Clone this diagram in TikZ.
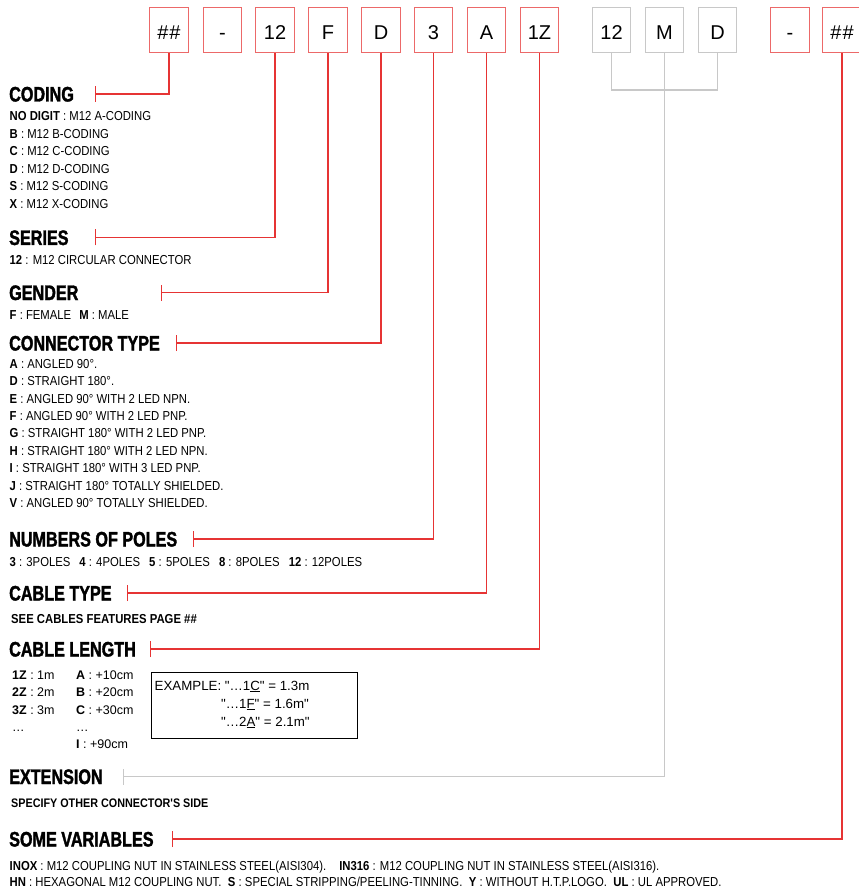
\documentclass[tikz,border=0pt]{standalone}
\usepackage{fontspec}
\setmainfont{Liberation Sans}
\newfontfamily\headfont{Liberation Sans}[FakeStretch=0.77, BoldFeatures={FakeBold=1.6}]
\newfontfamily\bodyfont{Liberation Sans}[FakeStretch=0.87]
\newfontfamily\plainfont{Liberation Sans}
\usetikzlibrary{arrows.meta}
\definecolor{codered}{RGB}{230,52,52}
\definecolor{boxred}{RGB}{236,105,105}
\definecolor{linegrey}{RGB}{200,200,200}

\begin{document}
\begin{tikzpicture}[x=1pt, y=-1pt,
    codebox/.style={draw=boxred, line width=1pt, minimum width=38.5pt, minimum height=45pt, inner sep=0pt, text height=17.6pt, text depth=0pt, font=\fontsize{20}{24}\selectfont},
    extbox/.style={codebox, draw=linegrey},
    heading/.style={anchor=base west, inner sep=0pt, font=\headfont\bfseries\fontsize{21}{25}\selectfont},
    bodytext/.style={anchor=base west, inner sep=0pt, font=\bodyfont\fontsize{13}{16}\selectfont},
    boldtext/.style={bodytext, font=\bodyfont\bfseries\fontsize{13}{16}\selectfont},
    plaintext/.style={anchor=base west, inner sep=0pt, font=\plainfont\fontsize{12.5}{15}\selectfont},
    redline/.style={codered, line width=1.1pt, -{Bar[width=16pt]}},
    greyline/.style={linegrey, line width=1.1pt}]
    \useasboundingbox (0,0) rectangle (858,890);
    % Code boxes
    \foreach \lbl/\xx/\nm in {{\#\kern1pt\#}/169/b1, -/222.5/b2, 12/275/b3, F/328/b4, D/381/b5, 3/433.5/b6, A/486.5/b7, 1Z/539.5/b8, -/790/r1, {\#\kern1pt\#}/842/r2}
        \node[codebox] (\nm) at (\xx,30.5) {\lbl};
    \foreach \lbl/\xx/\nm in {12/611.5/g1, M/664.5/g2, D/717.5/g3}
        \node[extbox] (\nm) at (\xx,30.5) {\lbl};
    % Headings
    \node[heading] (hCoding) at (9,101.5) {CODING};
    \node[heading] (hSeries) at (9,245) {SERIES};
    \node[heading] (hGender) at (9,300) {GENDER};
    \node[heading] (hType) at (9,350.5) {CONNECTOR TYPE};
    \node[heading] (hPoles) at (9,546.5) {NUMBERS OF POLES};
    \node[heading] (hCable) at (9,600.5) {CABLE TYPE};
    \node[heading] (hLength) at (9,656.5) {CABLE LENGTH};
    \node[heading] (hExt) at (9,784) {EXTENSION};
    \node[heading] (hVar) at (9,846.5) {SOME VARIABLES};
    % Tick ends
    \coordinate (tCoding) at (95,94);
    \coordinate (tSeries) at (95,237.5);
    \coordinate (tGender) at (161,292.5);
    \coordinate (tType) at (176,343);
    \coordinate (tPoles) at (193,539);
    \coordinate (tCable) at (126.5,593);
    \coordinate (tLength) at (150,649);
    \coordinate (tExt) at (123,776.5);
    \coordinate (tVar) at (172,839);
    \coordinate (gJoin) at (664.5,90);
    % Connectors
    \draw[redline] (b1.south) |- (tCoding);
    \draw[redline] (b3.south) |- (tSeries);
    \draw[redline] (b4.south) |- (tGender);
    \draw[redline] (b5.south) |- (tType);
    \draw[redline] (b6.south) |- (tPoles);
    \draw[redline] (b7.south) |- (tCable);
    \draw[redline] (b8.south) |- (tLength);
    \draw[redline] (r2.south) |- (tVar);
    \draw[greyline] (g1.south) |- (gJoin) -| (g3.south);
    \draw[greyline, -{Bar[width=16pt]}] (g2.south) |- (tExt);
    % Coding
    \foreach \txt [count=\i from 0] in {{\textbf{NO DIGIT} : M12 A-CODING}, {\textbf{B} : M12 B-CODING}, {\textbf{C} : M12 C-CODING}, {\textbf{D} : M12 D-CODING}, {\textbf{S} : M12 S-CODING}, {\textbf{X} : M12 X-CODING}}
        \node[bodytext] (code\i) at (9.5,{121+17.5*\i}) {\txt};
    % Series, gender
    \node[bodytext] (series) at (9.5,265) {\textbf{12} : M12 CIRCULAR CONNECTOR};
    \node[bodytext] (gender) at (9.5,319.5) {\textbf{F} : FEMALE\hspace{8pt}\textbf{M} : MALE};
    % Connector type
    \foreach \txt [count=\i from 0] in {{\textbf{A} : ANGLED 90°.}, {\textbf{D} : STRAIGHT 180°.}, {\textbf{E} : ANGLED 90° WITH 2 LED NPN.}, {\textbf{F} : ANGLED 90° WITH 2 LED PNP.}, {\textbf{G} : STRAIGHT 180° WITH 2 LED PNP.}, {\textbf{H} : STRAIGHT 180° WITH 2 LED NPN.}, {\textbf{I} : STRAIGHT 180° WITH 3 LED PNP.}, {\textbf{J} : STRAIGHT 180° TOTALLY SHIELDED.}, {\textbf{V} : ANGLED 90° TOTALLY SHIELDED.}}
        \node[bodytext] (type\i) at (9.5,{368.3+17.4*\i}) {\txt};
    % Poles, cable type
    \node[bodytext] (poles) at (9.5,566) {\textbf{3} : 3POLES\hspace{9pt}\textbf{4} : 4POLES\hspace{9pt}\textbf{5} : 5POLES\hspace{9pt}\textbf{8} : 8POLES\hspace{9pt}\textbf{12} : 12POLES};
    \node[boldtext] (cable) at (11,623) {SEE CABLES FEATURES PAGE \#\#};
    % Cable length
    \foreach \txt [count=\i from 0] in {{\textbf{1Z} : 1m}, {\textbf{2Z} : 2m}, {\textbf{3Z} : 3m}, …}
        \node[plaintext] (len\i) at (12,{679.5+17.3*\i}) {\txt};
    \foreach \txt [count=\i from 0] in {{\textbf{A} : +10cm}, {\textbf{B} : +20cm}, {\textbf{C} : +30cm}, …, {\textbf{I} : +90cm}}
        \node[plaintext] (add\i) at (76,{679.5+17.3*\i}) {\txt};
    \node[draw, line width=0.9pt, minimum width=206pt, minimum height=66pt] (exBox) at (254,705) {};
    \node[plaintext, font=\plainfont\fontsize{13.3}{15}\selectfont] (ex1) at (154.5,690) {EXAMPLE: "…1\underline{C}" = 1.3m};
    \node[plaintext, font=\plainfont\fontsize{13.3}{15}\selectfont] (ex2) at (221,708) {"…1\underline{F}" = 1.6m"};
    \node[plaintext, font=\plainfont\fontsize{13.3}{15}\selectfont] (ex3) at (221,726) {"…2\underline{A}" = 2.1m"};
    % Extension, variables
    \node[boldtext, font=\bodyfont\bfseries\fontsize{12.4}{16}\selectfont] (ext) at (11,807.5) {SPECIFY OTHER CONNECTOR'S SIDE};
    \node[bodytext] (var1) at (9.5,870) {\textbf{INOX} : M12 COUPLING NUT IN STAINLESS STEEL(AISI304).\quad \textbf{IN316} : M12 COUPLING NUT IN STAINLESS STEEL(AISI316).};
    \node[bodytext] (var2) at (9.5,886.5) {\textbf{HN} : HEXAGONAL M12 COUPLING NUT.\enspace \textbf{S} : SPECIAL STRIPPING/PEELING-TINNING.\enspace \textbf{Y} : WITHOUT H.T.P.LOGO.\enspace \textbf{UL} : UL APPROVED.};
\end{tikzpicture}
\end{document}
